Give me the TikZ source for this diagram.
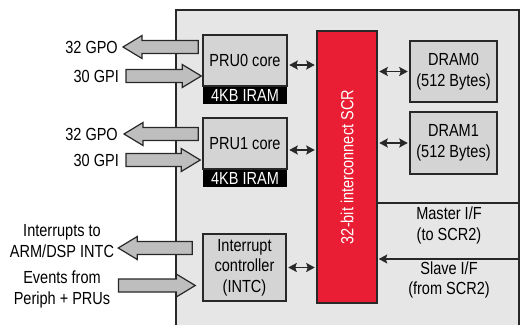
\documentclass[tikz,border=0pt]{standalone}
\usepackage{fontspec}
\setmainfont{Liberation Sans}[FakeStretch=0.83]
\usetikzlibrary{arrows.meta, positioning, calc}
\definecolor{scrred}{RGB}{233,30,52}
\definecolor{boxgray}{RGB}{212,212,212}
\definecolor{bggray}{RGB}{230,230,230}
\definecolor{arrgray}{RGB}{190,190,190}
\definecolor{edgegray}{RGB}{40,40,40}

\tikzset{
  tip/.tip={Stealth[length=8.5pt,width=9pt,inset=1.5pt]},
  blk/.style={draw=edgegray, fill=boxgray, line width=1.5pt, align=center, inner sep=0pt},
  iram/.style={fill=black, text=white, minimum width=84, minimum height=17, inner sep=0pt},
  lbl/.style={inner sep=0pt, align=center},
  link/.style={line width=1.6pt, edgegray, tip-tip, shorten <=1.5pt, shorten >=1.5pt},
  bus/.style={line width=1.4pt, edgegray},
  fatarr/.style={draw=edgegray, fill=arrgray, line width=1.2pt, line join=miter},
}

% block arrow from #1 (tail) to #2 (tip), horizontal
\newcommand{\fatarrow}[2]{%
  \draw[fatarr] let \p1=(#1), \p2=(#2), \n1={sign(\x2-\x1)} in
    (\x1,\y1+6.5pt) -- (\x2-\n1*19pt,\y1+6.5pt) -- (\x2-\n1*19pt,\y1+11.5pt)
    -- (\x2,\y1) -- (\x2-\n1*19pt,\y1-11.5pt) -- (\x2-\n1*19pt,\y1-6.5pt)
    -- (\x1,\y1-6.5pt) -- cycle;}

\begin{document}
\begin{tikzpicture}[x=1pt, y=-1pt, font=\fontsize{17.5}{20.5}\selectfont]
  \useasboundingbox (0,0) rectangle (524,324);
  \clip (0,0) rectangle (524,324);

  % subsystem frame
  \filldraw[fill=bggray, draw=edgegray, line width=1.5pt] (176,10) rectangle (519,340);

  % cores
  \node[blk, minimum width=84, minimum height=51] (pru0) at (245,60.5) {PRU0 core};
  \node[iram, below=0pt of pru0] (iram0) {4KB IRAM};
  \node[blk, minimum width=84, minimum height=51] (pru1) at (245,143.5) {PRU1 core};
  \node[iram, below=0pt of pru1] (iram1) {4KB IRAM};
  \node[blk, minimum width=83, minimum height=67] (intc) at (244.5,267.5)
    {Interrupt\\controller\\(INTC)};

  % interconnect
  \node[blk, fill=scrred, minimum width=60, minimum height=272] (scr) at (347,167)
    {\rotatebox{90}{\color{white}32-bit interconnect SCR}};

  % data memories
  \node[blk, minimum width=87, minimum height=61] (dram0) at (453.5,71.5)
    {DRAM0\\(512 Bytes)};
  \node[blk, minimum width=87, minimum height=62] (dram1) at (453.5,143)
    {DRAM1\\(512 Bytes)};

  \draw[link] ([yshift=-4.5pt]pru0.east) -- ([yshift=-4.5pt]pru0.east -| scr.west);
  \draw[link] ([yshift=-6.5pt]pru1.east) -- ([yshift=-6.5pt]pru1.east -| scr.west);
  \draw[link] (intc.east) -- (intc.east -| scr.west);
  \draw[link] (dram0.west) -- (dram0.west -| scr.east);
  \draw[link] (dram1.west) -- (dram1.west -| scr.east);

  % SCR2 ports
  \coordinate (mst) at (519,203);
  \coordinate (slv) at (519,259);
  \draw[bus] (mst -| scr.east) -- (mst);
  \draw[bus, -tip, shorten >=1pt] (slv) -- (slv -| scr.east);
  \node[lbl] (mstlbl) at (449,225.5) {Master I/F\\(to SCR2)};
  \node[lbl] (slvlbl) at (449,280) {Slave I/F\\(from SCR2)};

  % pins
  \node[lbl, anchor=east] (gpo0) at (118,47) {32 GPO};
  \node[lbl, anchor=east] (gpi0) at (119,76) {30 GPI};
  \node[lbl, anchor=east] (gpo1) at (118,134) {32 GPO};
  \node[lbl, anchor=east] (gpi1) at (119,160) {30 GPI};
  \node[lbl] (intout) at (62,241) {Interrupts to\\ARM/DSP INTC};
  \node[lbl] (evtin) at (62,289.5) {Events from\\Periph + PRUs};

  \fatarrow{$(pru0.west |- gpo0)+(-4pt,0)$}{$(gpo0.east)+(5pt,0)$}
  \fatarrow{$(gpi0.east)+(7pt,0)$}{$(gpi0 -| pru0.west)+(-1pt,0)$}
  \fatarrow{$(pru1.west |- gpo1)+(-4pt,0)$}{$(gpo1.east)+(6pt,0)$}
  \fatarrow{$(gpi1.east)+(7pt,0)$}{$(gpi1 -| pru1.west)+(-2pt,0)$}
  \fatarrow{$(intc.west |- 0,248)+(-10pt,0)$}{$(intout.east |- 0,248)+(4pt,0)$}
  \fatarrow{$(evtin.east |- 0,285.5)+(8pt,0)$}{$(intc.west |- 0,285.5)+(-7pt,0)$}
\end{tikzpicture}
\end{document}
